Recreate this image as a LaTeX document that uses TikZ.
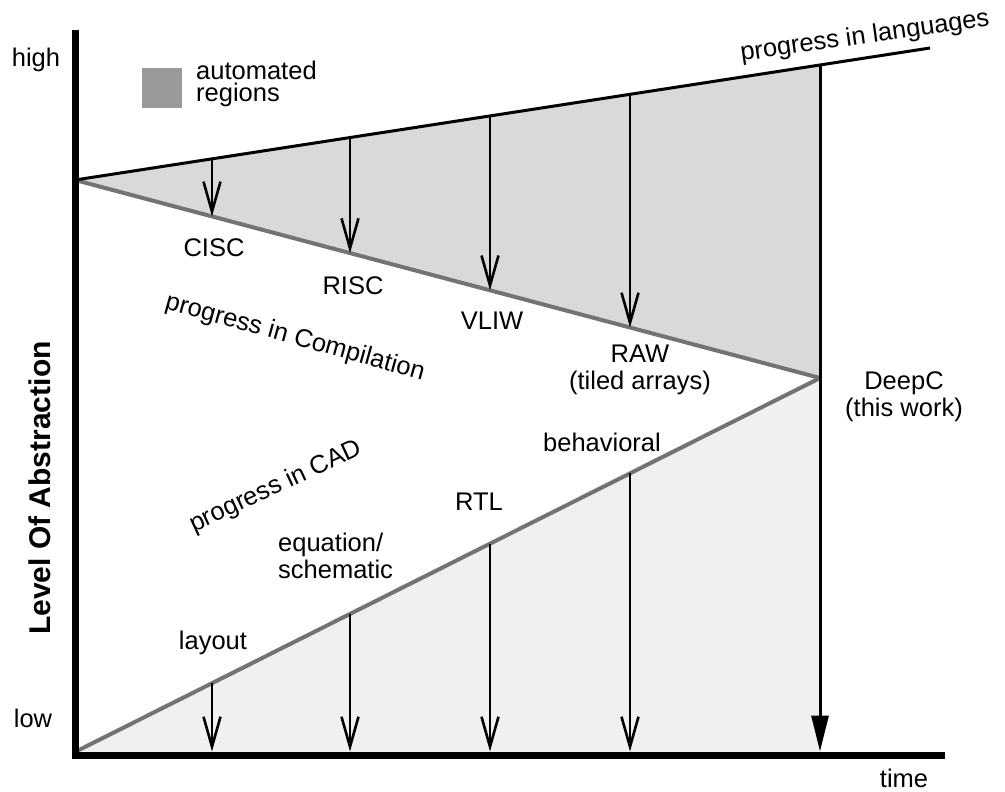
\documentclass[tikz,border=0pt]{standalone}
\usepackage{fontspec}
\setmainfont{Liberation Sans}
\usetikzlibrary{arrows.meta}
\begin{document}
\begin{tikzpicture}[x=1pt,y=-1pt,
  lbl/.style={font=\fontsize{25.5}{30}\selectfont, align=center, inner sep=0pt},
  axisline/.style={line width=7pt},
  trendline/.style={line width=4pt, draw=black!55},
  langline/.style={line width=3pt},
  stagearrow/.style={line width=2.6pt, -{Straight Barb[length=30pt,width=17pt]}},
  bigarrow/.style={line width=3pt, -{Triangle[length=36pt,width=17pt]}},
]
\useasboundingbox (0,0) rectangle (1005,792);

% key points of the three trend lines
\coordinate (O) at (75,180);
\coordinate (Lend) at (930,48);
\coordinate (Top) at (820,65);
\coordinate (Meet) at (820,378);
\coordinate (Base) at (820,752);
\coordinate (Zero) at (75,752);

% automated regions
\fill[black!15] (O) -- (Top) -- (Meet) -- cycle;
\fill[black!6] (Zero) -- (Meet) -- (Base) -- cycle;

% legend swatch
\fill[black!40] (142,68) rectangle (182,108);
\node[lbl, align=left, anchor=west] (legend) at (196,84) {automated\\[-8pt]regions};

% trend lines
\draw[trendline] (O) -- (Meet);
\draw[trendline] (Zero) -- (Meet);
\draw[langline] (O) -- (Lend);

% upper stage arrows (languages -> compilation)
\coordinate (u1) at (212,158.8);  \coordinate (v1) at (212,216.4);
\coordinate (u2) at (350,137.5);  \coordinate (v2) at (350,253.1);
\coordinate (u3) at (490,115.9);  \coordinate (v3) at (490,290.3);
\coordinate (u4) at (630,94.3);   \coordinate (v4) at (630,327.5);
\foreach \i in {1,2,3,4} \draw[stagearrow] (u\i) -- (v\i);

% lower stage arrows (CAD -> time axis)
\coordinate (c1) at (212,683.2);  \coordinate (d1) at (212,751.5);
\coordinate (c2) at (350,613.9);  \coordinate (d2) at (350,751.5);
\coordinate (c3) at (490,543.7);  \coordinate (d3) at (490,751.5);
\coordinate (c4) at (630,473.4);  \coordinate (d4) at (630,751.5);
\foreach \i in {1,2,3,4} \draw[stagearrow] (c\i) -- (d\i);

% DeepC arrow
\coordinate (Tip) at (820,751.5);
\draw[bigarrow] (Top) -- (Tip);

% axes
\draw[axisline] (75,30) -- (75,758.5);
\draw[axisline] (71.5,755) -- (945,755);

% axis labels
\node[lbl] (high) at (36,60) {high};
\node[lbl] (low) at (33,718) {low};
\node[lbl] (time) at (904,778) {time};
\node[lbl, font=\fontsize{30}{34}\selectfont\bfseries, rotate=90] (yl) at (40,488) {Level Of Abstraction};

% trend labels
\node[lbl, rotate=8] (lang) at (865,37) {progress in languages};
\node[lbl, rotate=-15.5] (comp) at (295,338) {progress in Compilation};
\node[lbl, rotate=25] (cad) at (276,487) {progress in CAD};

% stage labels
\node[lbl] (cisc) at (214,248) {CISC};
\node[lbl] (risc) at (353,286) {RISC};
\node[lbl] (vliw) at (492,321) {VLIW};
\node[lbl] (raw) at (640,370) {RAW\\[-3pt](tiled arrays)};
\node[lbl] (deepc) at (904,397) {DeepC\\[-3pt](this work)};
\node[lbl] (layout) at (213,643) {layout};
\node[lbl, align=left, anchor=west] (eqn) at (278,556) {equation/\\[-3pt]schematic};
\node[lbl] (rtl) at (479,502) {RTL};
\node[lbl] (beh) at (602,442) {behavioral};
\end{tikzpicture}
\end{document}
